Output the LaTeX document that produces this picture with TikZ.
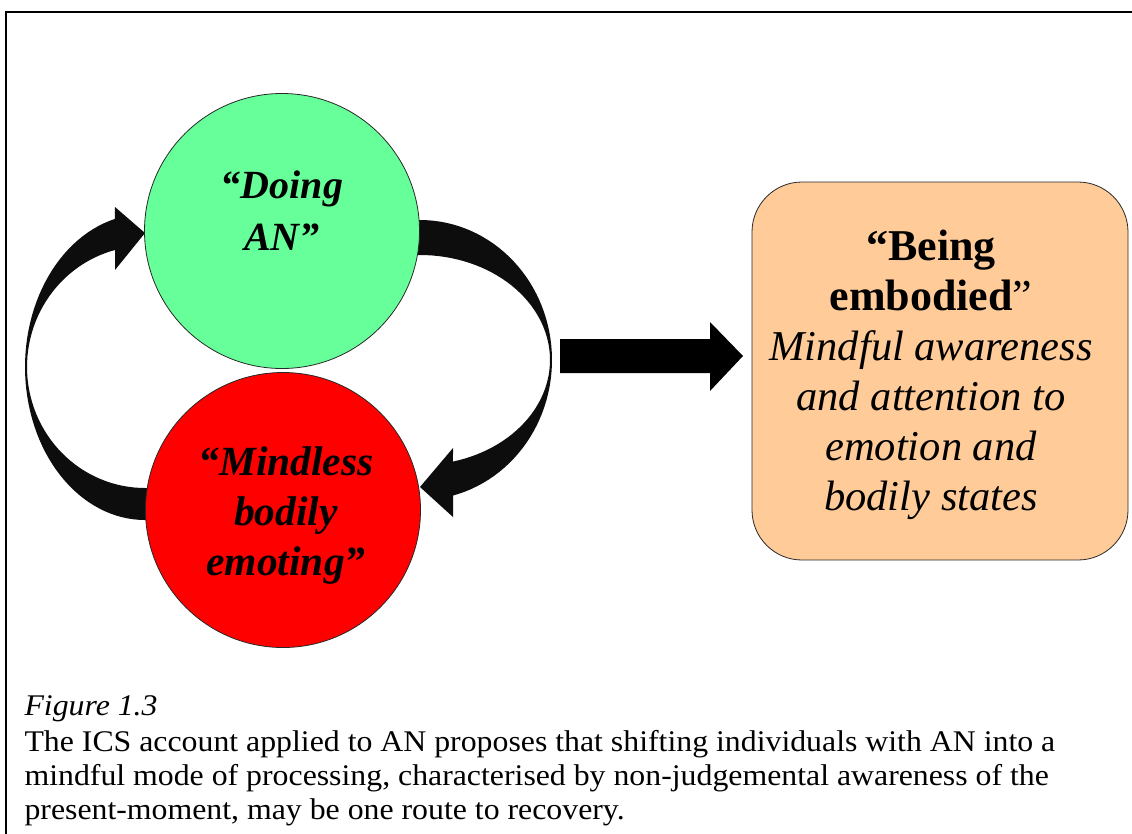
\documentclass[tikz,border=0pt]{standalone}
\usepackage{fontspec}
\setmainfont{Liberation Serif}
\newfontfamily\capfont{Liberation Serif}[FakeStretch=1.06]
\definecolor{doinggreen}{RGB}{102,255,153}
\definecolor{mindlessred}{RGB}{255,0,0}
\definecolor{beingfill}{RGB}{255,204,153}
\definecolor{arrowblack}{RGB}{13,13,13}
\definecolor{edgegray}{RGB}{40,40,40}
\tikzset{
  modecircle/.style={circle, draw=edgegray, line width=0.8pt, minimum size=275pt, inner sep=0pt},
  blockarrow/.style={fill=arrowblack},
  circtext/.style={align=center, anchor=base, font=\fontsize{40}{52}\selectfont\bfseries\itshape},
  boxtext/.style={align=center, anchor=base, font=\fontsize{42.5}{50}\selectfont},
  captext/.style={align=left, anchor=base west, font=\capfont\fontsize{30}{34}\selectfont},
}
\begin{document}
\begin{tikzpicture}[x=1pt, y=-1pt]
\useasboundingbox (0,0) rectangle (1132,833);
% frame
\draw[line width=2.2pt] (6,834) -- (6,12) -- (1133,12);
% curved arrow: Mindless bodily emoting -> Doing AN (left)
\fill[blockarrow] (170,520)
  -- plot[domain=90:255.5, samples=60] ({145+120*cos(\x)},{367+153*sin(\x)})
  -- (115,207) -- (145,233) -- (115,270)
  -- plot[domain=255.3:90, samples=60] ({145+118*cos(\x)},{367+121*sin(\x)})
  -- (170,488) -- cycle;
% curved arrow: Doing AN -> Mindless bodily emoting (right)
\fill[blockarrow] (400,220)
  -- plot[domain=270:435.5, samples=60] ({420+132*cos(\x)},{360+140*sin(\x)})
  -- (453,517) -- (420,487) -- (453,448)
  -- plot[domain=435.3:270, samples=60] ({420+130*cos(\x)},{360+105*sin(\x)})
  -- (400,255) -- cycle;
% circles
\node[modecircle, fill=doinggreen] (doing) at (282,231) {};
\node[modecircle, fill=mindlessred] (mindless) at (283,510) {};
\node[circtext] (doingtext) at (282,250) {“Doing\\AN”};
\node[circtext, font=\fontsize{41.5}{50}\selectfont\bfseries\itshape] (mindlesstext) at (286,575) {“Mindless\\bodily\\emoting”};
% box
\node[draw=edgegray, line width=0.8pt, fill=beingfill, rounded corners=50pt,
      minimum width=376pt, minimum height=378pt, inner sep=0pt] (being) at (940,371) {};
\node[boxtext] (beingtext) at (931,510)
  {{\fontsize{44}{50}\selectfont\bfseries “Being}\\{\fontsize{44}{50}\selectfont\bfseries embodied}{\fontsize{44}{50}\selectfont ”}\\
   \itshape Mindful awareness\\\itshape and attention to\\\itshape emotion and\\\itshape bodily states};
% straight block arrow
\fill[black] (560,339) -- (710,339) -- (710,322) -- (743,356) -- (710,391) -- (710,373) -- (560,373) -- cycle;
% caption
\node[captext] (caption) at (21,819)
  {\itshape Figure 1.3\\[2pt]
   The ICS account applied to AN proposes that shifting individuals with AN into a\\
   mindful mode of processing, characterised by non-judgemental awareness of the\\
   present-moment, may be one route to recovery.};
\end{tikzpicture}
\end{document}
